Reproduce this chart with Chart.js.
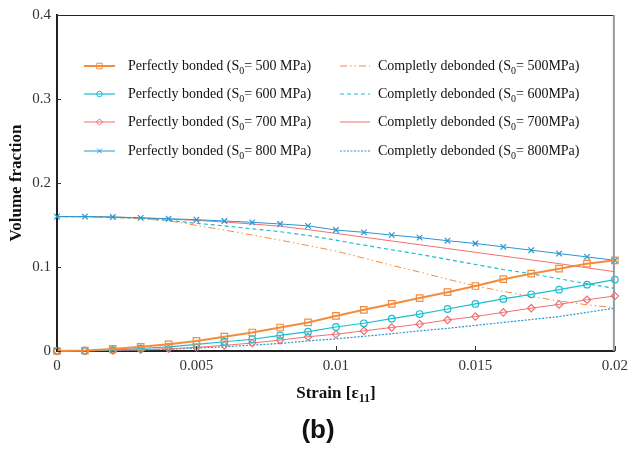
<!DOCTYPE html>
<html>
<head>
<meta charset="utf-8">
<script src="https://cdn.jsdelivr.net/npm/chart.js@4.4.1/dist/chart.umd.min.js"></script>
<style>
  html, body { margin: 0; padding: 0; background: #fff; }
  #wrap { width: 634px; height: 451px; }
</style>
</head>
<body>
<div id="wrap"><canvas id="chart1"></canvas></div>
<script>
// strain values (x)
const strain = [0, 0.001, 0.002, 0.003, 0.004, 0.005, 0.006, 0.007, 0.008, 0.009, 0.01,
  0.011, 0.012, 0.013, 0.014, 0.015, 0.016, 0.017, 0.018, 0.019, 0.02];

// perfectly bonded
const pb500 = [0, 0.0005, 0.0025, 0.005, 0.008, 0.012, 0.017, 0.022, 0.028, 0.034, 0.0417,
  0.049, 0.056, 0.063, 0.070, 0.0774, 0.0855, 0.092, 0.098, 0.104, 0.108];
const pb600 = [0, 0.0003, 0.001, 0.003, 0.005, 0.008, 0.011, 0.014, 0.0185, 0.023, 0.0286,
  0.033, 0.0385, 0.044, 0.050, 0.056, 0.062, 0.0675, 0.073, 0.079, 0.085];
const pb700 = [0, 0.0002, 0.0007, 0.0015, 0.0028, 0.0043, 0.0067, 0.0095, 0.013, 0.017, 0.020,
  0.024, 0.028, 0.032, 0.037, 0.041, 0.046, 0.051, 0.0555, 0.061, 0.0655];
const pb800 = [0.16, 0.16, 0.1595, 0.1585, 0.1575, 0.1563, 0.1548, 0.1532, 0.1512, 0.149, 0.144,
  0.1413, 0.138, 0.135, 0.1313, 0.128, 0.124, 0.120, 0.116, 0.112, 0.108];

// completely debonded
const cd500 = [0.16, 0.16, 0.159, 0.1575, 0.155, 0.1495, 0.144, 0.138, 0.132, 0.1255, 0.119,
  0.1105, 0.102, 0.094, 0.0855, 0.0775, 0.071, 0.065, 0.0595, 0.055, 0.0516];
const cd600 = [0.16, 0.16, 0.159, 0.158, 0.1555, 0.152, 0.149, 0.1455, 0.142, 0.1375, 0.132,
  0.126, 0.1205, 0.115, 0.109, 0.103, 0.097, 0.092, 0.086, 0.080, 0.0746];
const cd700 = [0.16, 0.16, 0.1595, 0.1585, 0.157, 0.1555, 0.1535, 0.1512, 0.1485, 0.1445, 0.140,
  0.1355, 0.131, 0.1265, 0.122, 0.1175, 0.113, 0.1085, 0.104, 0.099, 0.0944];
const cd800 = [0, 0, 0.0003, 0.001, 0.002, 0.0035, 0.005, 0.007, 0.009, 0.012, 0.0145,
  0.0175, 0.0205, 0.024, 0.027, 0.0305, 0.034, 0.0375, 0.041, 0.046, 0.051];

const xTicks = [0, 0.005, 0.01, 0.015, 0.02];
const xTickLabels = ['0', '0.005', '0.01', '0.015', '0.02'];
const yTicks = [0, 0.1, 0.2, 0.3, 0.4];
const yTickLabels = ['0', '0.1', '0.2', '0.3', '0.4'];

// legend labels: [before subscript, subscript, after]
const pbLabels = [
  ['Perfectly bonded (S', '0', '= 500 MPa)'],
  ['Perfectly bonded (S', '0', '= 600 MPa)'],
  ['Perfectly bonded (S', '0', '= 700 MPa)'],
  ['Perfectly bonded (S', '0', '= 800 MPa)']
];
const cdLabels = [
  ['Completly debonded (S', '0', '= 500MPa)'],
  ['Completly debonded (S', '0', '= 600MPa)'],
  ['Completly debonded (S', '0', '= 700MPa)'],
  ['Completly debonded (S', '0', '= 800MPa)']
];
const xTitle = ['Strain [\u03b5', '11', ']'];
const yTitle = 'Volume fraction';
const panel = '(b)';

const ORANGE = 'rgb(244,140,62)';
const CYAN = 'rgb(28,190,206)';
const RED = 'rgb(240,112,112)';
const BLUE = 'rgb(40,150,210)';

const pts = (ys) => ys.map((v, i) => ({x: strain[i], y: v}));

const pb = [
  {label: pbLabels[0], data: pts(pb500), borderColor: ORANGE, borderWidth: 2, pointStyle: 'rect', pointRadius: 4.6},
  {label: pbLabels[1], data: pts(pb600), borderColor: CYAN, borderWidth: 1.2, pointStyle: 'circle', pointRadius: 3.3},
  {label: pbLabels[2], data: pts(pb700), borderColor: RED, borderWidth: 1, pointStyle: 'rectRot', pointRadius: 3.7},
  {label: pbLabels[3], data: pts(pb800), borderColor: BLUE, borderWidth: 1, pointStyle: 'crossRot', pointRadius: 3.9}
];
const cd = [
  {label: cdLabels[0], data: pts(cd500), borderColor: ORANGE, borderWidth: 1, borderDash: [7, 3, 1.5, 3, 1.5, 3], pointRadius: 0},
  {label: cdLabels[1], data: pts(cd600), borderColor: CYAN, borderWidth: 1.2, borderDash: [4, 3], pointRadius: 0},
  {label: cdLabels[2], data: pts(cd700), borderColor: RED, borderWidth: 1, pointRadius: 0},
  {label: cdLabels[3], data: pts(cd800), borderColor: BLUE, borderWidth: 1.2, borderDash: [2, 1.5], pointRadius: 0}
];
pb.forEach(d => {
  d.pointBorderColor = d.borderColor;
  d.pointBackgroundColor = 'rgba(0,0,0,0)';
  d.pointBorderWidth = 1.2;
  d.clip = false;
});

const SERIF = '"Liberation Serif", "Times New Roman", serif';

function drawSub(ctx, parts, x, y, size, bold, align) {
  const w = bold ? 'bold ' : '';
  const big = w + size + 'px ' + SERIF;
  const small = w + Math.round(size * 0.72) + 'px ' + SERIF;
  ctx.font = big; const w0 = ctx.measureText(parts[0]).width;
  ctx.font = small; const w1 = ctx.measureText(parts[1]).width;
  ctx.font = big; const w2 = ctx.measureText(parts[2]).width;
  let sx = align === 'center' ? x - (w0 + w1 + w2) / 2 : x;
  ctx.textAlign = 'left';
  ctx.textBaseline = 'alphabetic';
  ctx.font = big; ctx.fillText(parts[0], sx, y);
  ctx.font = small; ctx.fillText(parts[1], sx + w0, y + size * 0.25);
  ctx.font = big; ctx.fillText(parts[2], sx + w0 + w1, y);
}

const decor = {
  id: 'decor',
  afterDraw(chart) {
    const {ctx, chartArea: a, scales: {x, y}} = chart;
    ctx.save();
    // top and right frame
    ctx.lineWidth = 1;
    ctx.strokeStyle = '#222';
    ctx.beginPath(); ctx.moveTo(a.left, a.top + 0.5); ctx.lineTo(a.right, a.top + 0.5); ctx.stroke();
    ctx.strokeStyle = '#999';
    ctx.lineWidth = 2;
    ctx.beginPath(); ctx.moveTo(a.right - 1, a.top); ctx.lineTo(a.right - 1, a.bottom); ctx.stroke();
    // inward ticks
    ctx.lineWidth = 1;
    ctx.strokeStyle = '#333';
    xTicks.forEach(v => {
      const px = Math.round(x.getPixelForValue(v)) + 0.5;
      ctx.beginPath(); ctx.moveTo(px, a.bottom); ctx.lineTo(px, a.bottom - 5); ctx.stroke();
    });
    yTicks.forEach(v => {
      const py = Math.round(y.getPixelForValue(v)) + 0.5;
      ctx.beginPath(); ctx.moveTo(a.left, py); ctx.lineTo(a.left + 4, py); ctx.stroke();
    });
    // legend
    const rows = [66, 94, 122, 151];
    const cols = [
      {sets: pb, x0: 84, x1: 115, tx: 128},
      {sets: cd, x0: 340, x1: 370, tx: 378}
    ];
    cols.forEach(c => {
      c.sets.forEach((d, i) => {
        const ly = rows[i];
        ctx.strokeStyle = d.borderColor;
        ctx.lineWidth = d.borderWidth;
        ctx.setLineDash(d.borderDash || []);
        ctx.beginPath(); ctx.moveTo(c.x0, ly); ctx.lineTo(c.x1, ly); ctx.stroke();
        ctx.setLineDash([]);
        if (d.pointRadius) {
          ctx.lineWidth = 1;
          ctx.fillStyle = 'rgba(0,0,0,0)';
          Chart.helpers.drawPoint(ctx, {pointStyle: d.pointStyle, radius: d.pointRadius * 0.85, rotation: 0, borderWidth: 1}, (c.x0 + c.x1) / 2, ly);
        }
        ctx.fillStyle = '#111';
        drawSub(ctx, d.label, c.tx, ly + 4, 14, false, 'left');
      });
    });
    // axis titles
    ctx.fillStyle = '#111';
    drawSub(ctx, xTitle, (a.left + a.right) / 2, 398, 17, true, 'center');
    ctx.save();
    ctx.translate(21, (a.top + a.bottom) / 2);
    ctx.rotate(-Math.PI / 2);
    ctx.font = 'bold 17px ' + SERIF;
    ctx.textAlign = 'center';
    ctx.textBaseline = 'alphabetic';
    ctx.fillText(yTitle, 0, 0);
    ctx.restore();
    // panel label
    ctx.font = 'bold 26px "Liberation Sans", Arial, sans-serif';
    ctx.textAlign = 'center';
    ctx.textBaseline = 'alphabetic';
    ctx.fillText(panel, 318, 438);
    ctx.restore();
  }
};

const chart1 = new Chart(document.getElementById('chart1').getContext('2d'), {
  type: 'line',
  data: {datasets: [...pb, ...cd]},
  options: {
    responsive: true,
    maintainAspectRatio: false,
    animation: false,
    layout: {padding: {top: 15, right: 15, left: 0, bottom: 0}},
    plugins: {legend: {display: false}, tooltip: {enabled: false}},
    elements: {line: {tension: 0, fill: false}},
    scales: {
      x: {
        type: 'linear', min: 0, max: 0.02,
        afterFit: (s) => { s.height = 100; },
        afterBuildTicks: (s) => { s.ticks = xTicks.map(v => ({value: v})); },
        grid: {display: false, drawTicks: false},
        border: {display: true, color: '#222', width: 2},
        ticks: {
          padding: 6, color: '#333', maxRotation: 0,
          font: {family: SERIF, size: 15},
          callback: (v) => xTickLabels[xTicks.indexOf(v)] ?? ''
        }
      },
      y: {
        min: 0, max: 0.4,
        afterFit: (s) => { s.width = 57; },
        afterBuildTicks: (s) => { s.ticks = yTicks.map(v => ({value: v})); },
        grid: {display: false, drawTicks: false},
        border: {display: true, color: '#222', width: 2},
        ticks: {
          padding: 6, color: '#333',
          font: {family: SERIF, size: 15},
          callback: (v) => yTickLabels[yTicks.indexOf(v)] ?? ''
        }
      }
    }
  },
  plugins: [decor]
});
</script>
</body>
</html>
